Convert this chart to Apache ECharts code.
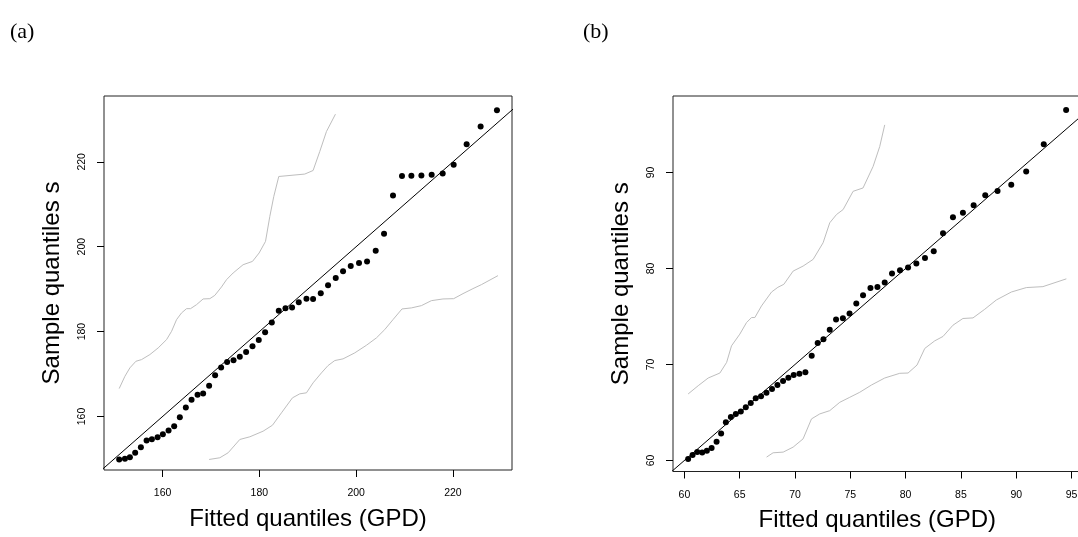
<!DOCTYPE html>
<html>
<head>
<meta charset="utf-8">
<script src="https://cdn.jsdelivr.net/npm/echarts@6/dist/echarts.min.js"></script>
<style>
html,body{margin:0;padding:0;background:#fff;overflow:hidden;}
#chart{width:1090px;height:537px;}
</style>
</head>
<body>
<div id="chart"></div>
<script>
// ---------- Panel (a) ----------
const aFitted = [151.04,152.22,153.25,154.34,155.52,156.70,157.79,158.97,160.06,161.24,162.40,163.57,164.81,165.99,167.23,168.38,169.62,170.86,172.10,173.34,174.66,175.96,177.26,178.58,179.88,181.19,182.57,184.01,185.40,186.76,188.14,189.73,191.10,192.69,194.19,195.78,197.29,198.88,200.59,202.25,204.04,205.76,207.61,209.47,211.41,213.48,215.60,217.88,220.15,222.83,225.72,229.09];
const aSample = [149.88,150.05,150.42,151.46,152.78,154.35,154.66,155.13,155.84,156.71,157.72,159.84,162.12,163.93,165.11,165.41,167.22,169.72,171.53,172.87,173.25,174.05,175.22,176.54,178.05,179.84,182.12,184.94,185.48,185.65,186.89,187.76,187.69,189.01,190.94,192.64,194.19,195.46,196.16,196.54,199.06,203.06,212.07,216.64,216.71,216.78,216.94,217.25,219.29,224.16,228.31,232.16];
const aUpperX = [151.04,152.22,153.25,154.49,155.66,157.38,159.09,160.83,161.86,162.89,163.92,164.96,165.78,167.02,168.38,169.77,170.80,172.18,173.22,174.58,176.64,178.58,179.95,181.27,182.16,182.98,184.01,189.38,191.10,192.48,193.86,195.72];
const aUpperY = [166.59,169.48,171.46,173.01,173.41,174.59,176.16,178.12,180.07,182.82,184.40,185.41,185.41,186.35,187.69,187.76,188.54,190.52,192.24,193.81,195.76,196.54,198.52,201.25,207.13,211.84,216.54,217.11,217.95,222.42,227.13,231.22];
const aLowerX = [169.62,171.83,173.55,175.96,178.03,180.77,182.71,184.57,186.84,188.35,189.73,191.10,192.83,194.19,195.58,197.29,199.71,202.12,204.19,205.90,207.61,209.47,211.41,213.48,215.54,217.94,220.15,222.07,224.13,225.87,229.30];
const aLowerY = [149.88,150.28,151.46,154.59,155.22,156.54,157.95,160.87,164.40,165.34,165.58,167.93,170.28,172.00,173.18,173.58,174.99,176.78,178.52,180.47,182.82,185.34,185.58,186.12,187.29,187.69,187.76,188.94,190.12,191.06,193.18];
const aTicksX = [160,180,200,220];
const aTicksY = [160,180,200,220];
const aXRange = [147.9, 232.2];
const aYRange = [147.4, 235.5];

// ---------- Panel (b) ----------
const bFitted = [60.34,60.74,61.16,61.61,62.03,62.46,62.91,63.32,63.75,64.20,64.65,65.10,65.55,66.00,66.45,66.93,67.42,67.92,68.41,68.92,69.40,69.88,70.40,70.94,71.51,72.05,72.57,73.14,73.71,74.33,74.93,75.54,76.15,76.82,77.45,78.11,78.77,79.49,80.22,80.97,81.75,82.54,83.38,84.28,85.18,86.15,87.20,88.31,89.55,90.90,92.49,94.51];
const bSample = [60.15,60.56,60.87,60.83,61.01,61.29,61.94,62.80,63.99,64.54,64.85,65.09,65.54,65.99,66.48,66.69,67.06,67.45,67.86,68.28,68.62,68.90,69.04,69.18,70.91,72.23,72.64,73.61,74.69,74.81,75.30,76.36,77.22,77.97,78.08,78.54,79.47,79.82,80.10,80.51,81.10,81.79,83.66,85.33,85.81,86.60,87.64,88.06,88.72,90.10,92.94,96.51];
const bUpperX = [60.34,61.25,62.15,63.21,63.82,64.26,65.01,65.62,66.07,66.37,66.97,67.88,68.45,68.99,69.83,70.73,71.64,72.54,73.14,73.75,74.35,75.25,76.15,77.06,77.66,78.11];
const bUpperY = [66.93,67.79,68.59,69.11,70.22,71.94,73.16,74.37,74.89,74.89,76.10,77.55,78.04,78.35,79.73,80.25,80.95,82.68,84.76,85.62,86.14,88.04,88.39,90.63,92.71,94.96];
const bLowerX = [67.43,68.02,68.93,69.83,70.73,71.49,72.24,73.14,74.05,74.95,75.85,76.91,78.11,79.47,80.22,81.03,81.73,82.63,83.38,84.28,85.18,86.09,87.15,88.20,89.56,90.91,92.41,94.53];
const bLowerY = [60.35,60.80,60.87,61.39,62.25,64.33,64.85,65.19,66.06,66.58,67.10,67.86,68.59,69.08,69.11,69.94,71.67,72.46,72.92,74.09,74.79,74.85,75.75,76.72,77.55,78.01,78.11,78.92];
const bTicksX = [60,65,70,75,80,85,90,95];
const bTicksY = [60,70,80,90];
const bXRange = [58.97, 95.9];
const bYRange = [58.85, 97.97];

const xTitle = 'Fitted quantiles (GPD)';
const yTitle = 'Sample quantiles s';

const zip = (xs, ys) => xs.map((x, i) => [x, ys[i]]);
const FONT = "'Liberation Sans', Arial, Helvetica, sans-serif";

function xAxisDef(gridIndex, range, ticks) {
  return {
    type: 'value', gridIndex, min: range[0], max: range[1],
    name: xTitle, nameLocation: 'middle', nameGap: 37,
    nameTextStyle: { fontSize: 24, fontFamily: FONT, color: '#000' },
    axisLine: { show: false, onZero: false },
    axisTick: { show: true, inside: false, length: 7, customValues: ticks, lineStyle: { color: '#000', width: 1 } },
    axisLabel: { show: true, customValues: ticks, margin: 18, fontSize: 10.5, fontFamily: FONT, color: '#000' },
    splitLine: { show: false }
  };
}
function yAxisDef(gridIndex, range, ticks) {
  return {
    type: 'value', gridIndex, min: range[0], max: range[1],
    name: yTitle, nameLocation: 'middle', nameGap: 40,
    nameTextStyle: { fontSize: 24, fontFamily: FONT, color: '#000' },
    axisLine: { show: false, onZero: false },
    axisTick: { show: true, inside: false, length: 7, customValues: ticks, lineStyle: { color: '#000', width: 1 } },
    axisLabel: { show: true, customValues: ticks, rotate: 90, margin: 16, fontSize: 10.5, fontFamily: FONT, color: '#000' },
    splitLine: { show: false }
  };
}

const envStyle = { color: '#bebebe', width: 1 };
function panelSeries(idx, fx, sy, ux, uy, lx, ly, lineEnds) {
  return [
    { type: 'line', xAxisIndex: idx, yAxisIndex: idx, data: zip(ux, uy), showSymbol: false, symbol: 'none', lineStyle: envStyle, itemStyle: { color: '#bebebe' }, silent: true, animation: false, z: 1 },
    { type: 'line', xAxisIndex: idx, yAxisIndex: idx, data: zip(lx, ly), showSymbol: false, symbol: 'none', lineStyle: envStyle, itemStyle: { color: '#bebebe' }, silent: true, animation: false, z: 1 },
    { type: 'line', xAxisIndex: idx, yAxisIndex: idx, data: [[lineEnds[0], lineEnds[0]], [lineEnds[1], lineEnds[1]]], showSymbol: false, symbol: 'none', clip: true, lineStyle: { color: '#000', width: 1 }, itemStyle: { color: '#000' }, silent: true, animation: false, z: 2 },
    { type: 'scatter', xAxisIndex: idx, yAxisIndex: idx, data: zip(fx, sy), symbol: 'circle', symbolSize: 6, itemStyle: { color: '#000', opacity: 1 }, silent: true, animation: false, z: 3 }
  ];
}

const chart = echarts.init(document.getElementById('chart'), null, { renderer: 'canvas' });
chart.setOption({
  backgroundColor: '#fff',
  animation: false,
  title: [
    { text: '(a)', left: 5, top: 16, textStyle: { fontFamily: "'Liberation Serif', 'DejaVu Serif', serif", fontSize: 22, fontWeight: 'normal', color: '#000' } },
    { text: '(b)', left: 578, top: 16, textStyle: { fontFamily: "'Liberation Serif', 'DejaVu Serif', serif", fontSize: 22, fontWeight: 'normal', color: '#000' } }
  ],
  grid: [
    { left: 104, top: 96, width: 408, height: 374, show: true, borderColor: '#222', borderWidth: 1, backgroundColor: 'transparent', outerBoundsMode: 'none', containLabel: false },
    { left: 673, top: 96, width: 408.5, height: 375.5, show: true, borderColor: '#222', borderWidth: 1, backgroundColor: 'transparent', outerBoundsMode: 'none', containLabel: false }
  ],
  xAxis: [xAxisDef(0, aXRange, aTicksX), xAxisDef(1, bXRange, bTicksX)],
  yAxis: [yAxisDef(0, aYRange, aTicksY), yAxisDef(1, bYRange, bTicksY)],
  series: [
    ...panelSeries(0, aFitted, aSample, aUpperX, aUpperY, aLowerX, aLowerY, [140, 240]),
    ...panelSeries(1, bFitted, bSample, bUpperX, bUpperY, bLowerX, bLowerY, [55, 100])
  ]
});
</script>
</body>
</html>
